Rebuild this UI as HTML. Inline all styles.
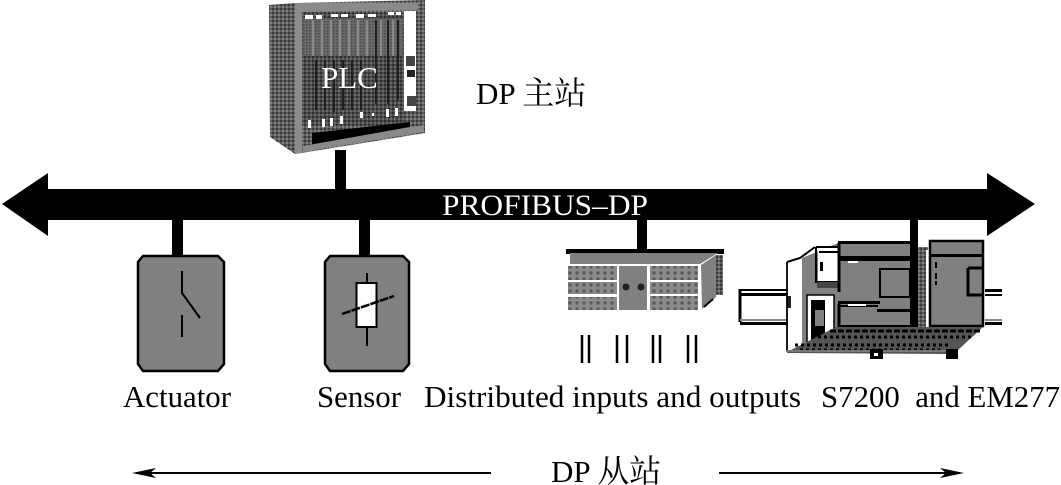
<!DOCTYPE html>
<html><head><meta charset="utf-8"><style>
html,body{margin:0;padding:0;background:#fff;width:1061px;height:485px;overflow:hidden}
svg{display:block}
text{font-family:"Liberation Serif","Noto Serif CJK SC",serif;fill:#000}
</style></head><body>
<svg width="1061" height="485" viewBox="0 0 1061 485" xmlns="http://www.w3.org/2000/svg">
<defs>
<pattern id="d" width="4" height="4" patternUnits="userSpaceOnUse"><rect width="4" height="4" fill="#5c5c5c"/><rect width="2" height="2" fill="#3a3a3a"/><rect x="2" y="2" width="2" height="2" fill="#808080"/></pattern>
<pattern id="f" width="4" height="4" patternUnits="userSpaceOnUse"><rect width="4" height="4" fill="#4c4c4c"/><rect width="2" height="2" fill="#303030"/><rect x="2" y="2" width="2" height="2" fill="#6a6a6a"/></pattern>
<pattern id="t" width="3" height="3" patternUnits="userSpaceOnUse"><rect width="3" height="3" fill="#6a6a6a"/><rect width="1.500" height="1.500" fill="#4a4a4a"/></pattern>
<pattern id="s" width="7" height="6" patternUnits="userSpaceOnUse"><rect width="7" height="6" fill="#8a8a8a"/><circle cx="3" cy="3" r="1.700" fill="#5a5a5a"/></pattern>
</defs>

<!-- PLC -->
<polygon points="269,5 295,3 425,0 425,133 295,154 270,137" fill="url(#d)"/>
<polygon points="295,3 302,3 302,153 295,154" fill="#8c8c8c"/>
<polygon points="302,3 418,3 418,10 302,12" fill="#8a8a8a"/>
<rect x="302" y="13" width="102" height="112" fill="url(#f)"/>
<rect x="303" y="18" width="100" height="38" fill="url(#t)"/>
<g stroke="#1e1e1e" stroke-width="2"><path d="M316 60V110M325 60V110M334 60V112M343 60V110M352 60V110M361 60V110M376 20V104M388 20V104M398 20V100"/></g>
<g stroke="#8a8a8a" stroke-width="2"><path d="M313 20V56M322 20V56M331 20V56M340 20V56M349 20V56M358 20V56M367 20V56M381 20V56M393 20V56"/></g>
<g fill="#fff"><rect x="305" y="15" width="8" height="4"/><rect x="316" y="15" width="6" height="4"/><rect x="331" y="14" width="7" height="3"/><rect x="341" y="14" width="7" height="3"/><rect x="356" y="14" width="8" height="4"/><rect x="368" y="14" width="8" height="3"/><rect x="388" y="12" width="6" height="3"/><rect x="396" y="12" width="5" height="3"/>
<rect x="308" y="120" width="3" height="8"/><rect x="322" y="119" width="3" height="8"/><rect x="330" y="118" width="3" height="8"/><rect x="340" y="116" width="3" height="8"/><rect x="360" y="112" width="3" height="6"/><rect x="372" y="113" width="2" height="3"/><rect x="386" y="109" width="3" height="8"/><rect x="395" y="108" width="3" height="8"/>
<rect x="404" y="11" width="12" height="100"/></g>
<rect x="406" y="56" width="9" height="10" fill="#444"/><rect x="407" y="70" width="8" height="7" fill="#222"/><rect x="407" y="96" width="9" height="10" fill="#444"/>
<polygon points="312,133 410,122 410,127 312,145" fill="#000"/>
<polygon points="303,146 410,127 424,125 424,132 303,152" fill="#8a8a8a"/>
<text x="321" y="88" font-size="31" style="fill:#fff">PLC</text>
<text x="476" y="104" font-size="31">DP <tspan font-size="32">主站</tspan></text>

<!-- connectors -->
<rect x="335" y="150" width="11" height="42" fill="#000"/>
<rect x="172" y="215" width="11" height="42" fill="#000"/>
<rect x="359" y="215" width="11" height="42" fill="#000"/>
<rect x="637" y="215" width="10" height="36" fill="#000"/>

<!-- bus -->
<polygon points="2,204 48,173 48,189 987,189 987,173 1035,204 987,236 987,220 48,220 48,236" fill="#000"/>
<text x="442" y="215" font-size="30" style="fill:#fff" textLength="206" lengthAdjust="spacingAndGlyphs">PROFIBUS–DP</text>

<!-- Actuator -->
<path d="M143 256H218L224 262V364L218 371H143L138 364V262Z" fill="#808080" stroke="#000" stroke-width="2.500"/>
<g stroke="#000" stroke-width="2" fill="none"><path d="M182 271V293L200 318"/><path d="M182 315V337"/></g>
<!-- Sensor -->
<path d="M330 256H403L409 262V364L403 371H330L325 364V262Z" fill="#808080" stroke="#000" stroke-width="2.500"/>
<path d="M367 273V283M367 327V346" stroke="#000" stroke-width="2"/>
<rect x="356.500" y="283" width="20" height="44" fill="#fff" stroke="#000" stroke-width="2"/>
<path d="M342 314L394 296" stroke="#000" stroke-width="2.500" stroke-dasharray="9 1"/>

<!-- Distributed IO -->
<rect x="566" y="249" width="158" height="5" fill="#000"/>
<polygon points="570,253 718,253 700,264 570,264" fill="#808080"/>
<rect x="568" y="264" width="132" height="47" fill="#fff"/>
<rect x="568" y="266" width="49" height="14" fill="url(#s)"/><rect x="568" y="282" width="49" height="12" fill="url(#s)"/><rect x="568" y="297" width="49" height="13" fill="url(#s)"/>
<rect x="619" y="266" width="28" height="44" fill="#808080"/>
<rect x="650" y="266" width="48" height="14" fill="url(#s)"/><rect x="650" y="282" width="48" height="12" fill="url(#s)"/><rect x="650" y="296" width="48" height="14" fill="url(#s)"/>
<circle cx="626" cy="287" r="3.500" fill="#222"/><circle cx="641" cy="287" r="3.500" fill="#222"/>
<polygon points="701,265 716,255 716,297 702,309" fill="#808080"/>
<rect x="716" y="255" width="7" height="40" fill="url(#d)"/>
<path d="M704 307L713 299" stroke="#000" stroke-width="2"/>
<g stroke="#000" stroke-width="2.500"><path d="M582 335V363M589 335V363M617 335V363M627 335V363M653 335V363M660 335V363M688 335V363M696 335V363"/></g>

<!-- S7200 -->
<g>
<!-- rails -->
<path d="M740 289V322" stroke="#000" stroke-width="3"/>
<rect x="740" y="289" width="48" height="2" fill="#000"/><rect x="740" y="293" width="48" height="3" fill="#000"/>
<rect x="740" y="319" width="48" height="2" fill="#888"/><rect x="740" y="322" width="48" height="3" fill="#000"/>
<rect x="787" y="296" width="4" height="12" fill="#222"/>
<rect x="985" y="289" width="17" height="3" fill="#000"/><rect x="985" y="294" width="17" height="2" fill="#000"/>
<rect x="985" y="319" width="17" height="2" fill="#888"/><rect x="985" y="322" width="17" height="3" fill="#000"/>
<!-- left bracket -->
<path d="M787 262V350" stroke="#000" stroke-width="1.800" fill="none"/>
<path d="M787 262L800 258L815 247" stroke="#000" stroke-width="2" fill="none"/>
<polygon points="802,258 838,243 838,350 802,350" fill="#808080"/>
<rect x="818" y="248" width="20" height="34" fill="#fff"/>
<path d="M816 247H838M816 247V282H838M819 252H838M819 282H838" stroke="#000" stroke-width="2" fill="none"/>
<rect x="820" y="262" width="3" height="9" fill="#000"/>
<rect x="817" y="282" width="21" height="6" fill="#444"/>
<rect x="807" y="295" width="27" height="54" fill="#fff" stroke="#000" stroke-width="1.500"/>
<rect x="811" y="300" width="14" height="42" fill="#000"/><rect x="815" y="310" width="9" height="16" fill="#808080"/>
<!-- S7200 body -->
<rect x="838" y="243" width="72" height="92" fill="#808080"/>
<path d="M839 243V292M839 304V328" stroke="#000" stroke-width="3"/>
<rect x="838" y="241" width="72" height="3" fill="#000"/>
<rect x="838" y="256" width="72" height="5" fill="#000"/>
<rect x="838" y="301" width="42" height="3" fill="#000"/><rect x="877" y="309" width="33" height="3" fill="#000"/><rect x="838" y="305" width="40" height="2" fill="#000"/>
<rect x="838" y="325" width="72" height="3" fill="#000"/>
<rect x="880" y="269" width="30" height="28" fill="#808080" stroke="#000" stroke-width="2"/>
<rect x="848" y="261" width="10" height="2" fill="#fff"/><rect x="848" y="304" width="18" height="2" fill="#fff"/>
<rect x="910" y="215" width="8" height="115" fill="#000"/>
<!-- texture strip -->
<rect x="918" y="247" width="10" height="82" fill="url(#d)"/>
<rect x="926" y="250" width="3" height="78" fill="#fff"/>
<!-- EM277 -->
<rect x="930" y="241" width="53" height="85" fill="#808080" stroke="#000" stroke-width="2.500"/>
<rect x="929" y="254" width="54" height="3" fill="#000"/>
<path d="M968 268H983M968 268V295H983" stroke="#000" stroke-width="3" fill="none"/>
<rect x="935" y="262" width="2" height="6" fill="#000"/><rect x="935" y="273" width="2" height="6" fill="#000"/><rect x="935" y="281" width="2" height="4" fill="#000"/>
<!-- base -->
<polygon points="787,352 836,327 983,327 958,350 948,354 787,353" fill="#555"/>
<path d="M795 345H950M812 337H972M800 350H940" stroke="#000" stroke-width="3" stroke-dasharray="3 3"/>
<path d="M830 331H982" stroke="#000" stroke-width="3" stroke-dasharray="6 2"/>
<rect x="786" y="350" width="162" height="2" fill="#777"/>
<rect x="870" y="349" width="13" height="10" fill="#000"/><rect x="874" y="353" width="4" height="3" fill="#fff"/>
<rect x="946" y="349" width="12" height="10" fill="#000"/>
</g>

<!-- labels -->
<g font-size="31">
<text x="123" y="407" textLength="108" lengthAdjust="spacingAndGlyphs">Actuator</text>
<text x="317" y="407" textLength="84" lengthAdjust="spacingAndGlyphs">Sensor</text>
<text x="424" y="407" textLength="377" lengthAdjust="spacingAndGlyphs">Distributed inputs and outputs</text>
<text x="821" y="407" xml:space="preserve" textLength="239" lengthAdjust="spacingAndGlyphs">S7200  and EM277</text>
<text x="551" y="482">DP <tspan font-size="32">从站</tspan></text>
</g>

<!-- bottom arrows -->
<path d="M140 473H491M719 473H956" stroke="#000" stroke-width="2"/>
<polygon points="132,473 156,468 150,473 156,478" fill="#000"/>
<polygon points="964,473 940,468 946,473 940,478" fill="#000"/>
</svg>
</body></html>
